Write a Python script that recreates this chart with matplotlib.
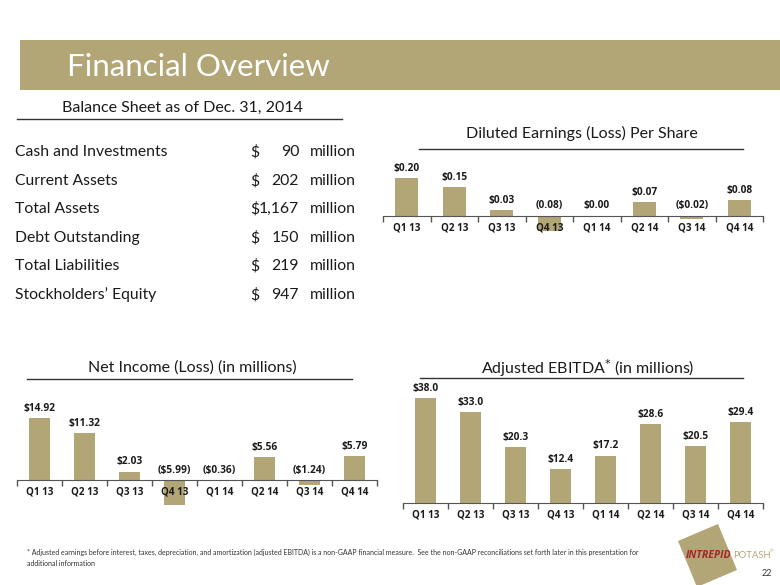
import matplotlib.pyplot as plt
from matplotlib.patches import Rectangle, Polygon
import numpy as np

plt.rcParams['font.family'] = ['Lato', 'DejaVu Sans']

# ---- data ----
quarters = ["Q1 13", "Q2 13", "Q3 13", "Q4 13", "Q1 14", "Q2 14", "Q3 14", "Q4 14"]
eps = [0.20, 0.15, 0.03, -0.08, 0.00, 0.07, -0.02, 0.08]
eps_labels = ["$0.20", "$0.15", "$0.03", "(0.08)", "$0.00", "$0.07", "($0.02)", "$0.08"]
net_income = [14.92, 11.32, 2.03, -5.99, -0.36, 5.56, -1.24, 5.79]
ni_labels = ["$14.92", "$11.32", "$2.03", "($5.99)", "($0.36)", "$5.56", "($1.24)", "$5.79"]
ebitda = [38.0, 33.0, 20.3, 12.4, 17.2, 28.6, 20.5, 29.4]
ebitda_labels = ["$38.0", "$33.0", "$20.3", "$12.4", "$17.2", "$28.6", "$20.5", "$29.4"]

bs_items = ["Cash and Investments", "Current Assets", "Total Assets",
            "Debt Outstanding", "Total Liabilities", "Stockholders\u2019 Equity"]
bs_amounts = ["90", "202", "1,167", "150", "219", "947"]

TAN = '#B2A677'
DARK = '#1a1a1a'
BOLD = ['Open Sans', 'DejaVu Sans']
W, H = 780, 585

def fx(x):
    return x / W

def fy(y):
    return 1 - y / H

fig = plt.figure(figsize=(7.8, 5.85), dpi=100)
fig.patch.set_facecolor('white')

# title banner
fig.add_artist(Rectangle((fx(20), fy(90)), fx(780) - fx(20), fy(40) - fy(90),
                         transform=fig.transFigure, color=TAN, lw=0))
fig.text(fx(67), fy(67), "Financial Overview", color='white', fontsize=22.5,
         va='center', ha='left')

# balance sheet
fig.text(fx(182), fy(108), "Balance Sheet as of Dec. 31, 2014", fontsize=11.5,
         ha='center', va='center', color=DARK)
fig.add_artist(plt.Line2D([fx(17), fx(342)], [fy(119), fy(119)], color='#333333', lw=1))
row_y = [152, 181, 209, 238, 266, 295]
for lab, amt, y in zip(bs_items, bs_amounts, row_y):
    fig.text(fx(15), fy(y), lab, fontsize=11.3, va='center', color=DARK)
    fig.text(fx(250), fy(y), "$", fontsize=11.3, va='center', color=DARK)
    fig.text(fx(299), fy(y), amt, fontsize=11.3, va='center', ha='right', color=DARK)
    fig.text(fx(310), fy(y), "million", fontsize=11.3, va='center', color=DARK)


def bar_chart(x0, x1, ytop, ybot, base, scale, vals, labels, pad):
    ax = fig.add_axes([fx(x0), fy(ybot), (x1 - x0) / W, (ybot - ytop) / H])
    ax.set_facecolor('none')
    xs = np.arange(len(vals))
    ax.bar(xs, vals, width=0.48, color=TAN, zorder=1)
    ax.set_xlim(-0.5, len(vals) - 0.5)
    ax.set_ylim(-(ybot - base) / scale, (base - ytop) / scale)
    for s in ['top', 'right', 'left']:
        ax.spines[s].set_visible(False)
    ax.spines['bottom'].set_position(('data', 0))
    ax.spines['bottom'].set_color('#555555')
    ax.set_yticks([])
    ax.set_xticks(xs)
    ax.set_xticklabels(quarters, fontsize=7.1, fontweight='bold', color=DARK, family=BOLD)
    ax.tick_params(axis='x', which='major', length=0, pad=pad)
    ax.set_xticks(np.arange(-0.5, len(vals)), minor=True)
    ax.tick_params(axis='x', which='minor', length=4, width=1, color='#555555', direction='out')
    for x, v, lab in zip(xs, vals, labels):
        ax.annotate(lab, (x, max(v, 0)), xytext=(0, 3), textcoords='offset points',
                    ha='center', va='bottom', fontsize=7.3, fontweight='bold',
                    color=DARK, family=BOLD)
    return ax


# EPS chart
fig.text(fx(582), fy(133), "Diluted Earnings (Loss) Per Share", fontsize=11.5,
         ha='center', va='center', color=DARK)
fig.add_artist(plt.Line2D([fx(419), fx(743)], [fy(149), fy(149)], color='#333333', lw=1))
bar_chart(383, 763, 160, 240, 215.5, 189, eps, eps_labels, 5)

# net income chart
fig.text(fx(192), fy(368), "Net Income (Loss) (in millions)", fontsize=11.5,
         ha='center', va='center', color=DARK)
fig.add_artist(plt.Line2D([fx(27), fx(352)], [fy(379), fy(379)], color='#333333', lw=1))
bar_chart(17, 377, 400, 515, 480, 4.16, net_income, ni_labels, 5)

# EBITDA chart
fig.text(fx(588), fy(368), r"Adjusted EBITDA$^{*}$ (in millions)", fontsize=11.5,
         ha='center', va='center', color=DARK)
fig.add_artist(plt.Line2D([fx(420), fx(743)], [fy(378), fy(378)], color='#333333', lw=1))
bar_chart(403, 763, 385, 530, 503, 2.76, ebitda, ebitda_labels, 5)

# footnote
fig.text(fx(27), fy(552), "* Adjusted earnings before interest, taxes, depreciation, and amortization "
         "(adjusted EBITDA) is a non-GAAP financial measure.  See the non-GAAP reconciliations "
         "set forth later in this presentation for", fontsize=5.0, va='center', color='#333333')
fig.text(fx(27), fy(563), "additional information", fontsize=5.0, va='center', color='#333333')

# logo
fig.add_artist(Polygon([(fx(678), fy(541)), (fx(718), fy(524)), (fx(737), fy(570)), (fx(697), fy(587))],
                       closed=True, transform=fig.transFigure, color=TAN, lw=0))
fig.text(fx(731), fy(556), "INTREPID", fontsize=7.6, fontweight='bold', style='italic',
         color='#A3262A', ha='right', va='center', family=BOLD)
fig.text(fx(733), fy(556), "POTASH", fontsize=6.8, color=TAN, ha='left', va='center')
fig.text(fx(770), fy(551), "\u00ae", fontsize=3.2, color=TAN, ha='left', va='center')
fig.text(fx(767), fy(574), "22", fontsize=6.5, color='#333333', ha='center', va='center')

fig.savefig('out.png', dpi=100)
